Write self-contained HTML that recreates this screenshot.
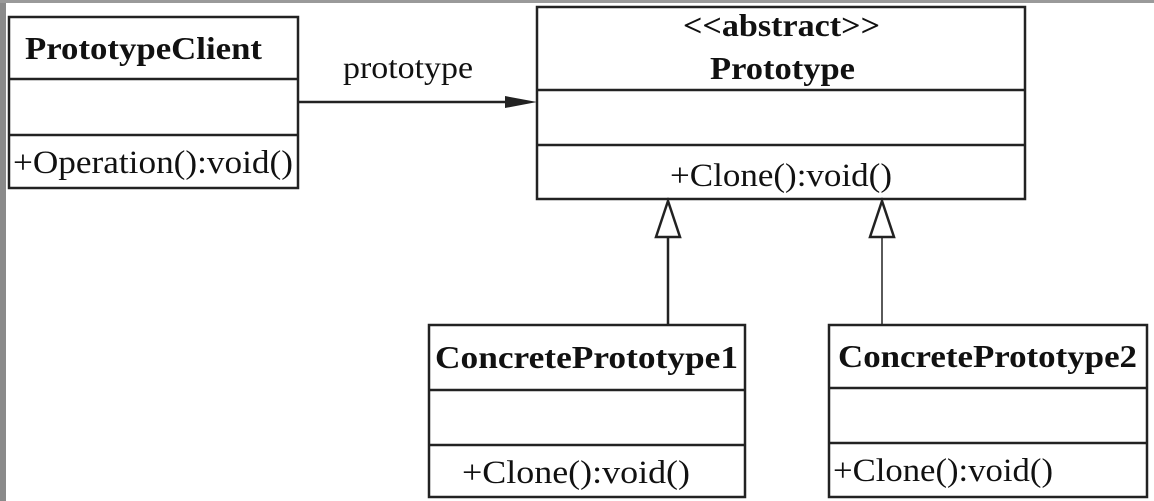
<!DOCTYPE html>
<html><head><meta charset="utf-8"><style>
html,body{margin:0;padding:0;background:#fff;}
svg{display:block;}
text{font-family:"Liberation Serif",serif;fill:#111;}
.b{font-weight:bold;}
</style></head><body>
<svg width="1154" height="501" viewBox="0 0 1154 501">
<rect x="0" y="0" width="1154" height="501" fill="#fff"/>
<rect x="0" y="0" width="6" height="501" fill="#8a8a8a"/>
<rect x="0" y="0" width="1154" height="3" fill="#9a9a9a"/>
<g fill="none" stroke="#222" stroke-width="2.5">
<rect x="9" y="17" width="289" height="171"/>
<line x1="9" y1="79" x2="298" y2="79"/>
<line x1="9" y1="135" x2="298" y2="135"/>
<rect x="537" y="7" width="488" height="192"/>
<line x1="537" y1="90" x2="1025" y2="90"/>
<line x1="537" y1="145" x2="1025" y2="145"/>
<rect x="429" y="325" width="316" height="172"/>
<line x1="429" y1="390" x2="745" y2="390"/>
<line x1="429" y1="445" x2="745" y2="445"/>
<rect x="829" y="325" width="318" height="172"/>
<line x1="829" y1="388" x2="1147" y2="388"/>
<line x1="829" y1="443" x2="1147" y2="443"/>
<line x1="298" y1="102" x2="510" y2="102"/>
<line x1="668" y1="237" x2="668" y2="325"/>
<line x1="882" y1="237" x2="882" y2="325" stroke-width="1.5"/>
<polygon points="668,201 656,237 680,237" fill="#fff"/>
<polygon points="882,201 870,237 894,237" fill="#fff"/>
</g>
<polygon points="537,102 505,96 505,108" fill="#222"/>
<text x="343" y="78" font-size="32" textLength="130" lengthAdjust="spacingAndGlyphs">prototype</text>
<text class="b" x="25" y="59" font-size="32" textLength="237" lengthAdjust="spacingAndGlyphs">PrototypeClient</text>
<text x="13" y="173" font-size="33" textLength="280" lengthAdjust="spacingAndGlyphs">+Operation():void()</text>
<text class="b" x="683" y="36" font-size="32" textLength="197" lengthAdjust="spacingAndGlyphs">&lt;&lt;abstract&gt;&gt;</text>
<text class="b" x="710" y="79" font-size="32" textLength="145" lengthAdjust="spacingAndGlyphs">Prototype</text>
<text x="670" y="186" font-size="33" textLength="222" lengthAdjust="spacingAndGlyphs">+Clone():void()</text>
<text class="b" x="435" y="368" font-size="32" textLength="303" lengthAdjust="spacingAndGlyphs">ConcretePrototype1</text>
<text x="462" y="483" font-size="33" textLength="228" lengthAdjust="spacingAndGlyphs">+Clone():void()</text>
<text class="b" x="838" y="367" font-size="32" textLength="299" lengthAdjust="spacingAndGlyphs">ConcretePrototype2</text>
<text x="833" y="481" font-size="33" textLength="220" lengthAdjust="spacingAndGlyphs">+Clone():void()</text>
</svg>
</body></html>
